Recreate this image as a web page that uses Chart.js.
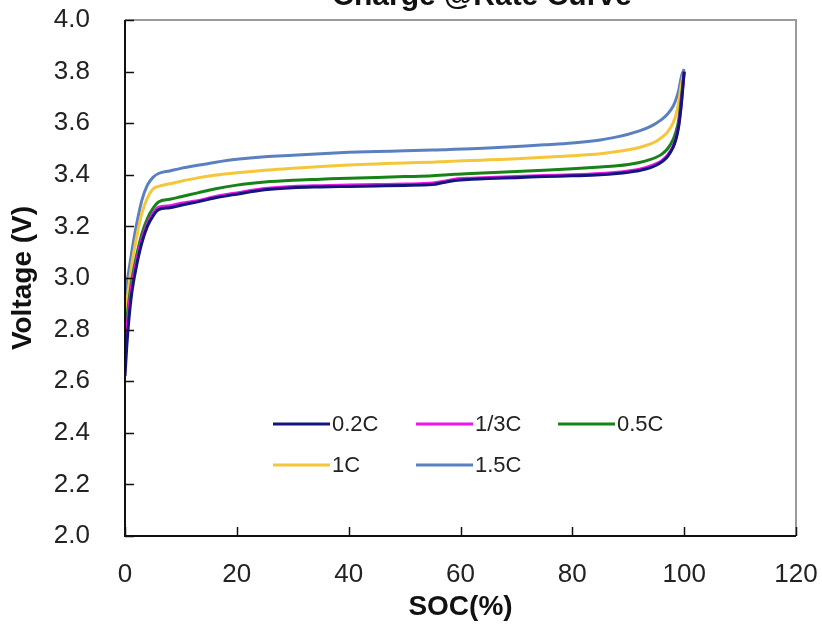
<!DOCTYPE html>
<html>
<head>
<meta charset="utf-8">
<script src="https://cdn.jsdelivr.net/npm/chart.js@4/dist/chart.umd.min.js"></script>
<style>
html,body{margin:0;padding:0;background:#fff;overflow:hidden;}
#wrap{position:relative;width:822px;height:625px;}
</style>
</head>
<body>
<div id="wrap"><canvas id="c" width="822" height="625"></canvas></div>
<script>
const chartTitle = "Charge @Rate Curve";
const xTitle = "SOC(%)";
const yTitle = "Voltage (V)";
const seriesLabels = ["0.2C", "1/3C", "0.5C", "1C", "1.5C"];
const seriesColors = ["#14147e", "#f014f0", "#178217", "#f5c63a", "#5b80c0"];

const soc = [0, 0.3, 0.7, 1.2, 2, 3, 4, 5, 6, 8, 10, 13, 16, 20, 25, 30, 35, 40, 45, 50, 55, 57, 59, 62, 65, 70, 75, 80, 85, 88, 90, 92, 94, 95, 96, 97, 98, 98.5, 99, 99.5, 100];

const v02C = [2.62, 2.73, 2.84, 2.94, 3.04, 3.135, 3.20, 3.24, 3.265, 3.272, 3.282, 3.295, 3.31, 3.325, 3.342, 3.35, 3.353, 3.355, 3.357, 3.359, 3.362, 3.37, 3.378, 3.383, 3.386, 3.389, 3.393, 3.396, 3.40, 3.405, 3.41, 3.417, 3.428, 3.437, 3.45, 3.47, 3.505, 3.535, 3.585, 3.675, 3.80];
const v13C = [2.70, 2.79, 2.88, 2.97, 3.06, 3.15, 3.21, 3.25, 3.275, 3.28, 3.29, 3.30, 3.315, 3.33, 3.347, 3.355, 3.358, 3.36, 3.362, 3.364, 3.368, 3.375, 3.383, 3.387, 3.39, 3.393, 3.397, 3.40, 3.405, 3.41, 3.415, 3.422, 3.434, 3.443, 3.455, 3.475, 3.51, 3.54, 3.59, 3.68, 3.80];
const v05C = [2.75, 2.83, 2.91, 2.99, 3.08, 3.17, 3.23, 3.27, 3.295, 3.305, 3.315, 3.33, 3.345, 3.36, 3.372, 3.379, 3.383, 3.387, 3.39, 3.393, 3.396, 3.399, 3.402, 3.405, 3.408, 3.413, 3.418, 3.423, 3.43, 3.435, 3.44, 3.448, 3.46, 3.468, 3.48, 3.50, 3.535, 3.565, 3.61, 3.70, 3.80];
const v1C  = [2.82, 2.90, 2.97, 3.05, 3.15, 3.25, 3.31, 3.345, 3.355, 3.365, 3.375, 3.388, 3.398, 3.408, 3.418, 3.425, 3.432, 3.438, 3.442, 3.446, 3.449, 3.451, 3.453, 3.455, 3.458, 3.462, 3.468, 3.474, 3.482, 3.49, 3.497, 3.506, 3.52, 3.53, 3.545, 3.565, 3.60, 3.63, 3.68, 3.75, 3.80];
const v15C = [2.90, 2.97, 3.03, 3.10, 3.20, 3.30, 3.36, 3.39, 3.405, 3.415, 3.425, 3.437, 3.448, 3.46, 3.47, 3.476, 3.482, 3.487, 3.49, 3.493, 3.496, 3.497, 3.499, 3.501, 3.504, 3.51, 3.516, 3.523, 3.535, 3.547, 3.557, 3.57, 3.588, 3.60, 3.615, 3.635, 3.665, 3.69, 3.725, 3.78, 3.81];

const seriesValues = [v02C, v13C, v05C, v1C, v15C];
const xTicks = [0, 20, 40, 60, 80, 100, 120];
const yTicks = [2.0, 2.2, 2.4, 2.6, 2.8, 3.0, 3.2, 3.4, 3.6, 3.8, 4.0];

const FONT = "'Liberation Sans', Arial, sans-serif";

const datasets = seriesLabels.map((lab, i) => ({
  label: lab,
  data: soc.map((s, j) => ({x: s, y: seriesValues[i][j]})),
  borderColor: seriesColors[i],
  backgroundColor: seriesColors[i],
  borderWidth: 3,
  pointRadius: 0,
  cubicInterpolationMode: 'monotone',
  fill: false
}));

function noPad(s) {
  s.paddingTop = 0; s.paddingBottom = 0; s.paddingLeft = 0; s.paddingRight = 0;
}

const decor = {
  id: 'decor',
  afterDatasetsDraw(chart) {
    const ctx = chart.ctx;
    const a = chart.chartArea;
    const xs = chart.scales.x, ys = chart.scales.y;
    ctx.save();
    ctx.strokeStyle = '#9a9a9a';
    ctx.lineWidth = 2;
    ctx.beginPath();
    ctx.moveTo(a.left, a.top);
    ctx.lineTo(a.right, a.top);
    ctx.lineTo(a.right, a.bottom);
    ctx.stroke();
    ctx.strokeStyle = '#111';
    ctx.lineWidth = 2;
    ctx.beginPath();
    ctx.moveTo(a.left, a.top);
    ctx.lineTo(a.left, a.bottom);
    ctx.lineTo(a.right, a.bottom);
    ctx.stroke();
    ctx.lineWidth = 1.5;
    ctx.beginPath();
    yTicks.forEach(v => {
      const y = Math.round(ys.getPixelForValue(v)) + 0.5;
      ctx.moveTo(a.left, y); ctx.lineTo(a.left + 9, y);
    });
    xTicks.forEach(v => {
      const x = Math.round(xs.getPixelForValue(v)) + 0.5;
      ctx.moveTo(x, a.bottom); ctx.lineTo(x, a.bottom - 9);
    });
    ctx.stroke();
    const pos = [[273, 424], [416, 424], [558, 424], [273, 465], [416, 465]];
    ctx.font = "22px " + FONT;
    ctx.textBaseline = 'middle';
    ctx.textAlign = 'left';
    chart.data.datasets.forEach((ds, i) => {
      const [lx, ly] = pos[i];
      ctx.strokeStyle = ds.borderColor;
      ctx.lineWidth = 3;
      ctx.beginPath();
      ctx.moveTo(lx, ly); ctx.lineTo(lx + 57, ly);
      ctx.stroke();
      ctx.fillStyle = '#222';
      ctx.fillText(ds.label, lx + 59, ly + 1);
    });
    ctx.font = "bold 30px " + FONT;
    ctx.textAlign = 'center';
    ctx.textBaseline = 'alphabetic';
    ctx.fillStyle = '#111';
    ctx.fillText(chartTitle, 482, 5);
    ctx.restore();
  }
};

new Chart(document.getElementById('c'), {
  type: 'line',
  data: {datasets},
  options: {
    responsive: false,
    animation: false,
    devicePixelRatio: 1,
    layout: {padding: {top: 20, right: 26, bottom: 0, left: 0}},
    plugins: {legend: {display: false}, tooltip: {enabled: false}, title: {display: false}},
    scales: {
      x: {
        type: 'linear',
        min: 0, max: 120,
        afterBuildTicks: s => { s.ticks = xTicks.map(v => ({value: v})); },
        afterFit: s => { s.height = 89; noPad(s); },
        grid: {display: false, drawTicks: false},
        border: {display: false},
        ticks: {color: '#222', font: {family: FONT, size: 26}, padding: 23, maxRotation: 0,
                callback: v => String(v)},
        title: {display: true, text: xTitle, color: '#111',
                font: {family: FONT, size: 28, weight: 'bold'}, padding: {top: 0, bottom: 1}}
      },
      y: {
        type: 'linear',
        min: 2.0, max: 4.0,
        afterBuildTicks: s => { s.ticks = yTicks.map(v => ({value: v})); },
        afterFit: s => { s.width = 125; noPad(s); },
        grid: {display: false, drawTicks: false},
        border: {display: false},
        ticks: {color: '#222', font: {family: FONT, size: 26}, padding: 35,
                callback: v => Number(v).toFixed(1)},
        title: {display: true, text: yTitle, color: '#111',
                font: {family: FONT, size: 28, weight: 'bold'}, padding: {top: 6, bottom: 0}}
      }
    }
  },
  plugins: [decor]
});
</script>
</body>
</html>
